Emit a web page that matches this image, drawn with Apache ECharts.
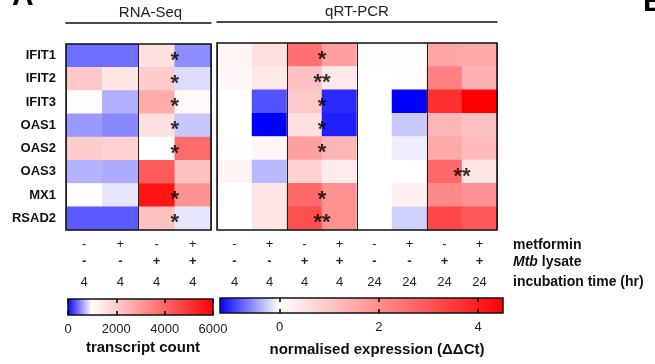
<!DOCTYPE html>
<html>
<head>
<meta charset="utf-8">
<script src="https://cdn.jsdelivr.net/npm/echarts@6/dist/echarts.min.js"></script>
<style>
  html, body { margin: 0; padding: 0; background: #fff; }
  #chart { width: 655px; height: 364px; }
</style>
</head>
<body>
<div id="chart"></div>
<script>
const genes = ['IFIT1', 'IFIT2', 'IFIT3', 'OAS1', 'OAS2', 'OAS3', 'MX1', 'RSAD2'];

const rnaMetformin = ['-', '+', '-', '+'];
const rnaLysate = ['-', '-', '+', '+'];
const rnaTime = ['4', '4', '4', '4'];
const pcrMetformin = ['-', '+', '-', '+', '-', '+', '-', '+'];
const pcrLysate = ['-', '-', '+', '+', '-', '-', '+', '+'];
const pcrTime = ['4', '4', '4', '4', '24', '24', '24', '24'];

// transcript count, one row per gene
const rnaSeq = [
  [430, 430, 1600, 550],
  [2100, 1500, 2000, 860],
  [1050, 690, 2650, 1100],
  [600, 530, 1600, 780],
  [2000, 1900, 1000, 3900],
  [700, 670, 4250, 2250],
  [1020, 900, 5600, 3150],
  [350, 350, 2250, 900]
];

// ddCt, one row per gene
const qpcr = [
  [0.18, 0.55, 2.5, 1.7, 0.05, 0.05, 1.55, 1.5],
  [0.15, 0.4, 1.1, 0.4, 0, 0.05, 2.25, 1.4],
  [0, -0.82, 0.95, -1.0, 0, -1.2, 3.65, 4.5],
  [0, -1.2, 0.55, -1.05, 0, -0.26, 1.3, 1.1],
  [0.02, 0.15, 1.7, 1.3, 0, -0.08, 1.5, 1.2],
  [0.2, -0.33, 0.8, 0.35, 0, 0, 2.65, 0.45],
  [0, 0.45, 2.65, 1.95, 0, 0.25, 2.1, 1.95],
  [0, 0.45, 3.1, 1.95, 0, -0.22, 3.25, 2.95]
];

// significance marks, drawn on the boundary between two columns
const rnaStars = ['*', '*', '*', '*', '*', '', '*', '*'];
const rnaStarCol = 3;
const pcrStars = ['*', '**', '*', '*', '*', '', '*', '**'];
const pcrStarCol = 3;
const pcrStars24 = ['', '', '', '', '', '**', '', ''];
const pcrStar24Col = 7;

const rnaStops = [[0, '#0000ff'], [1000, '#ffffff'], [6000, '#ff0000']];
const pcrStops = [[-1.2, '#0000ff'], [0, '#ffffff'], [4.5, '#ff0000']];
const rnaTicks = [0, 2000, 4000, 6000];
const pcrTicks = [0, 2, 4];

const FONT = 'Liberation Sans, Arial, sans-serif';

function hexRgb(h) {
  return [1, 3, 5].map(i => parseInt(h.slice(i, i + 2), 16));
}
function ramp(stops, n) {
  const min = stops[0][0], max = stops[stops.length - 1][0];
  const out = [];
  for (let i = 0; i <= n; i++) {
    const v = min + (max - min) * i / n;
    let k = 0;
    while (k < stops.length - 2 && v > stops[k + 1][0]) k++;
    const a = stops[k], b = stops[k + 1];
    const t = Math.max(0, Math.min(1, (v - a[0]) / (b[0] - a[0])));
    const ca = hexRgb(a[1]), cb = hexRgb(b[1]);
    const c = ca.map((x, j) => Math.round(x + (cb[j] - x) * t));
    out.push('rgb(' + c.join(',') + ')');
  }
  return out;
}
function gradient(stops) {
  const min = stops[0][0], max = stops[stops.length - 1][0];
  return {
    type: 'linear', x: 0, y: 0, x2: 1, y2: 0,
    colorStops: stops.map(s => ({ offset: (s[0] - min) / (max - min), color: s[1] }))
  };
}
function cells(rows) {
  const out = [];
  rows.forEach((row, y) => row.forEach((v, x) => out.push([x, y, v])));
  return out;
}
function stars(marks, col) {
  const out = [];
  marks.forEach((m, y) => { if (m) out.push([col, y, m]); });
  return out;
}
function labelAxis(gridIndex, labels, offset, bold) {
  return {
    gridIndex: gridIndex,
    type: 'category',
    position: 'bottom',
    offset: offset,
    data: labels.map((_, i) => String(i)),
    axisLine: { show: false },
    axisTick: { show: false },
    splitLine: { show: false },
    axisLabel: {
      interval: 0, margin: 8,
      formatter: (v, i) => labels[i],
      fontFamily: FONT, fontSize: 13,
      fontWeight: bold ? 'bold' : 'normal',
      color: '#222'
    }
  };
}
function headerAxis(gridIndex, max, name, pad) {
  return {
    gridIndex: gridIndex,
    type: 'value',
    position: 'top',
    offset: 21,
    min: 0, max: max, interval: 2,
    z: 10,
    axisLine: { show: true, lineStyle: { color: '#111', width: 1.5 } },
    axisTick: { show: false },
    axisLabel: { show: false },
    splitLine: { show: true, lineStyle: { color: '#222', width: 1 } },
    name: name,
    nameLocation: 'middle',
    nameGap: 3,
    nameTextStyle: { fontFamily: FONT, fontSize: 15, color: '#222', padding: [0, 0, 0, pad] }
  };
}
function barAxis(gridIndex, stops, ticks, pos, name, gap, pad) {
  const ax = {
    gridIndex: gridIndex,
    type: 'value',
    position: pos,
    min: stops[0][0], max: stops[stops.length - 1][0],
    axisLine: { show: false },
    splitLine: { show: false },
    axisTick: { show: true, inside: true, length: 4, customValues: ticks, lineStyle: { color: '#000', width: 1.5 } },
    axisLabel: { show: pos === 'bottom', customValues: ticks, formatter: v => String(v),
      margin: 8, fontFamily: FONT, fontSize: 13, color: '#222' }
  };
  if (name) {
    ax.name = name;
    ax.nameLocation = 'middle';
    ax.nameGap = gap;
    ax.nameTextStyle = { fontFamily: FONT, fontSize: 15, fontWeight: 'bold', color: '#111', padding: [0, 0, 0, pad] };
  }
  return ax;
}

const chart = echarts.init(document.getElementById('chart'));

const heatGrid = {
  show: true, backgroundColor: 'transparent', borderColor: '#111', borderWidth: 1.5, z: 10
};

const option = {
  animation: false,
  textStyle: { fontFamily: FONT },
  grid: [
    Object.assign({ left: 66, top: 44, width: 145, height: 186, outerBoundsMode: 'none' }, heatGrid),
    Object.assign({ left: 217, top: 43, width: 280, height: 187, outerBoundsMode: 'none' }, heatGrid),
    { left: 68, top: 299, width: 145, height: 16, show: true, borderColor: '#111', borderWidth: 1.5,
      backgroundColor: gradient(rnaStops), outerBoundsMode: 'none' },
    { left: 220, top: 298, width: 283, height: 15, show: true, borderColor: '#111', borderWidth: 1.5,
      backgroundColor: gradient(pcrStops), outerBoundsMode: 'none' }
  ],
  xAxis: [
    labelAxis(0, rnaMetformin, 0, false),
    labelAxis(0, rnaLysate, 17, true),
    labelAxis(0, rnaTime, 38, false),
    headerAxis(0, 4, 'RNA-Seq', 24),
    labelAxis(1, pcrMetformin, 0, false),
    labelAxis(1, pcrLysate, 17, true),
    labelAxis(1, pcrTime, 38, false),
    headerAxis(1, 8, 'qRT-PCR', 0),
    barAxis(2, rnaStops, rnaTicks, 'bottom', 'transcript count', 25, 5),
    barAxis(2, rnaStops, rnaTicks, 'top'),
    barAxis(3, pcrStops, pcrTicks, 'bottom', 'normalised expression (\u0394\u0394Ct)', 29, 31),
    barAxis(3, pcrStops, pcrTicks, 'top')
  ],
  yAxis: [
    {
      gridIndex: 0, type: 'category', data: genes, inverse: true,
      axisLine: { show: false }, axisTick: { show: false },
      axisLabel: { margin: 10, fontFamily: FONT, fontSize: 13, fontWeight: 'bold', color: '#111' }
    },
    {
      gridIndex: 1, type: 'category', data: genes, inverse: true,
      axisLine: { show: false }, axisTick: { show: false }, axisLabel: { show: false }
    },
    { gridIndex: 2, type: 'value', show: false },
    { gridIndex: 3, type: 'value', show: false }
  ],
  visualMap: [
    { show: false, seriesIndex: 0, dimension: 2, min: 0, max: 6000, inRange: { color: ramp(rnaStops, 60) } },
    { show: false, seriesIndex: 1, dimension: 2, min: -1.2, max: 4.5, inRange: { color: ramp(pcrStops, 57) } }
  ],
  series: [
    { type: 'heatmap', xAxisIndex: 0, yAxisIndex: 0, data: cells(rnaSeq), silent: true },
    { type: 'heatmap', xAxisIndex: 4, yAxisIndex: 1, data: cells(qpcr), silent: true },
    {
      type: 'scatter', xAxisIndex: 3, yAxisIndex: 0, z: 12, silent: true,
      data: stars(rnaStars, rnaStarCol),
      symbolSize: 1, itemStyle: { color: 'rgba(0,0,0,0)' },
      label: { show: true, position: 'inside', formatter: p => p.data[2], fontFamily: FONT,
        fontSize: 22, fontWeight: 'bold', color: '#000', offset: [0, 5] }
    },
    {
      type: 'scatter', xAxisIndex: 7, yAxisIndex: 1, z: 12, silent: true,
      data: stars(pcrStars, pcrStarCol).concat(stars(pcrStars24, pcrStar24Col)),
      symbolSize: 1, itemStyle: { color: 'rgba(0,0,0,0)' },
      label: { show: true, position: 'inside', formatter: p => p.data[2], fontFamily: FONT,
        fontSize: 22, fontWeight: 'bold', color: '#000', offset: [0, 5] }
    }
  ],
  graphic: [
    { type: 'text', x: 12, y: 12, style: { text: 'A', font: 'bold 30px ' + FONT, fill: '#000', verticalAlign: 'bottom' } },
    { type: 'text', x: 643, y: 18, style: { text: 'B', font: 'bold 30px ' + FONT, fill: '#000', verticalAlign: 'bottom' } },
    { type: 'text', x: 513, y: 245, style: { text: 'metformin', font: 'bold 14px ' + FONT, fill: '#111', verticalAlign: 'middle' } },
    { type: 'text', x: 513, y: 262, style: {
      text: '{i|Mtb} lysate', font: 'bold 14px ' + FONT, fill: '#111', verticalAlign: 'middle',
      rich: { i: { fontStyle: 'italic', fontWeight: 'bold', fontSize: 14, fontFamily: FONT, fill: '#111' } } } },
    { type: 'text', x: 513, y: 282, style: { text: 'incubation time (hr)', font: 'bold 14px ' + FONT, fill: '#111', verticalAlign: 'middle' } }
  ]
};

chart.setOption(option);
</script>
</body>
</html>
